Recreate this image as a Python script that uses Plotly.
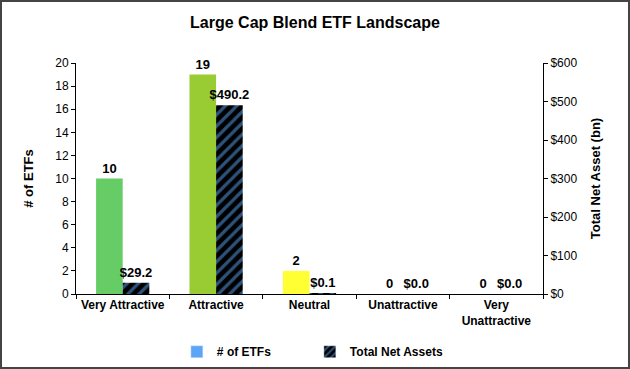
import plotly.graph_objects as go

categories = ["Very Attractive", "Attractive", "Neutral", "Unattractive", "Very<br>Unattractive"]
num_etfs = [10, 19, 2, 0, 0]
total_net_assets = [29.2, 490.2, 0.1, 0.0, 0.0]
cat_colors = ["#66CC66", "#99CC33", "#FFFF33", "#FF3333", "#CC0000"]
left_ticks = list(range(0, 21, 2))
right_ticks = list(range(0, 601, 100))

FONT = "Liberation Sans, Arial, sans-serif"
BLUE = "#5AA5F5"

fig = go.Figure()
fig.add_trace(go.Bar(
    x=categories, y=num_etfs, yaxis="y", offsetgroup="a",
    marker=dict(color=cat_colors, line=dict(width=0)),
    text=[str(v) for v in num_etfs], textposition="outside", constraintext="none",
    textfont=dict(family=FONT, size=13, color="black", weight="bold"),
    cliponaxis=False, showlegend=False,
))
fig.add_trace(go.Bar(
    x=categories, y=total_net_assets, yaxis="y2", offsetgroup="b",
    marker=dict(color="black", line=dict(width=0),
                pattern=dict(shape="/", fgcolor=BLUE, bgcolor="black", size=8, solidity=0.4)),
    text=["${:.1f}".format(v) for v in total_net_assets], textposition="outside", constraintext="none",
    textfont=dict(family=FONT, size=13, color="black", weight="bold"),
    cliponaxis=False, showlegend=False,
))
# legend entries
fig.add_trace(go.Bar(x=[categories[0]], y=[None], yaxis="y", offsetgroup="a",
                     name="# of ETFs", marker=dict(color=BLUE)))
fig.add_trace(go.Bar(x=[categories[0]], y=[None], yaxis="y2", offsetgroup="b",
                     name="Total Net Assets",
                     marker=dict(color="black",
                                 pattern=dict(shape="/", fgcolor=BLUE, bgcolor="black", size=6, solidity=0.4))))

fig.update_layout(
    width=630, height=369,
    margin=dict(l=76, r=87, t=63, b=75, autoexpand=False),
    paper_bgcolor="white", plot_bgcolor="white",
    barmode="group", bargap=0.43, bargroupgap=0,
    font=dict(family=FONT, size=12, color="black"),
    title=dict(text="<b>Large Cap Blend ETF Landscape</b>", x=0.5, xanchor="center",
               y=0.94, yanchor="middle", font=dict(family=FONT, size=16, color="black")),
    xaxis=dict(type="category", showline=True, linecolor="black", linewidth=1, automargin=False,
               ticks="outside", tickson="boundaries", ticklen=4, tickcolor="black",
               tickfont=dict(family=FONT, size=12, color="black", weight="bold"),
               showgrid=False),
    yaxis=dict(range=[0, 20], tickvals=left_ticks, showline=True, linecolor="black", automargin=False,
               ticks="outside", ticklen=4, tickcolor="black", showgrid=False,
               tickfont=dict(family=FONT, size=12),
               title=dict(text="<b># of ETFs</b>", font=dict(family=FONT, size=13), standoff=18)),
    yaxis2=dict(range=[0, 600], tickvals=right_ticks, ticktext=["${}".format(v) for v in right_ticks],
                overlaying="y", side="right", showline=True, linecolor="black", automargin=False,
                ticks="outside", ticklen=4, tickcolor="black", showgrid=False,
                tickfont=dict(family=FONT, size=12),
                title=dict(text="<b>Total Net Asset (bn)</b>", font=dict(family=FONT, size=13), standoff=14)),
    legend=dict(orientation="h", x=0.216, xanchor="left", y=-0.25, yanchor="middle",
                font=dict(family=FONT, size=12, weight="bold"), itemwidth=30, entrywidth=88,
                bgcolor="rgba(0,0,0,0)"),
    shapes=[dict(type="rect", xref="paper", yref="paper",
                 x0=(1 - 76) / 467, x1=(629 - 76) / 467,
                 y0=(294 - 368) / 231, y1=(294 - 1) / 231,
                 line=dict(color="#444444", width=2), fillcolor="rgba(0,0,0,0)", layer="below")],
)

fig.write_html("out.html", config={"displayModeBar": False},
               post_script="document.body.style.margin='0';document.body.style.overflow='hidden';")
